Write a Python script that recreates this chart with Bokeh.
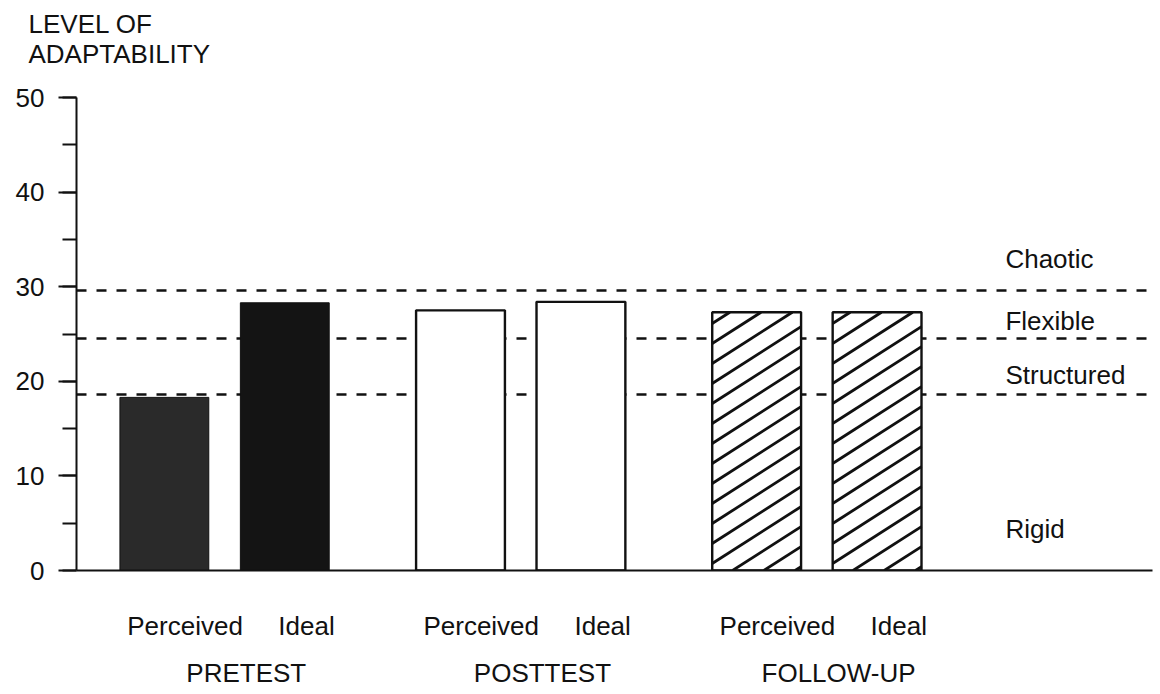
from bokeh.plotting import figure
from bokeh.models import (Range1d, SingleIntervalTicker, FixedTicker, LinearAxis,
                          ColumnDataSource, LabelSet, Title, CustomJSTickFormatter)
from bokeh.core.properties import value
from bokeh.embed import file_html
from bokeh.resources import INLINE

# ---- data ----
groups = ["PRETEST", "POSTTEST", "FOLLOW-UP"]
conditions = ["Perceived", "Ideal"]
perceived = [18.3, 27.5, 27.3]
ideal = [28.3, 28.4, 27.3]
cutoffs = [29.6, 24.5, 18.6]          # Chaotic / Flexible / Structured boundaries
zones = ["Chaotic", "Flexible", "Structured", "Rigid"]
zone_label_y = [32.0, 25.4, 19.7, 3.4]
title_lines = ["LEVEL OF", "ADAPTABILITY"]

# ---- layout / style ----
FONT = "Liberation Sans"
FS = "26px"
INK = "#111111"
group_x = [1.5 + 3 * i for i in range(len(groups))]
OFF = 0.61
BW = 0.9
XMAX, YMAX = 10.9, 50
FRAME_L, FRAME_R, FRAME_T, FRAME_B = 76, 1152, 97, 570

W, H = 1158, 692
p = figure(width=W, height=H,
           x_range=Range1d(0, XMAX), y_range=Range1d(0, YMAX),
           output_backend="svg", toolbar_location=None,
           min_border_left=FRAME_L, min_border_right=W - FRAME_R,
           min_border_top=FRAME_T, min_border_bottom=H - FRAME_B)
p.outline_line_color = None
p.grid.visible = False
p.background_fill_color = "white"
p.border_fill_color = "white"

# dashed cut-off lines (behind bars)
p.hspan(y=cutoffs, line_color=INK, line_width=2.5, line_dash="10 10")

# bars
styles = [
    dict(fill_color=["#2a2a2a", "#141414"], line_color=INK, line_width=1),
    dict(fill_color="white", line_color=INK, line_width=2.4),
    dict(fill_color="white", line_color=INK, line_width=2.4),
]
for i, g in enumerate(group_x):
    p.vbar(x=[g - OFF, g + OFF], top=[perceived[i], ideal[i]], bottom=0,
           width=BW, **styles[i])

# shallow diagonal hatching of the FOLLOW-UP bars, derived from their values
PX = (FRAME_R - FRAME_L) / XMAX      # pixels per x unit
PY = (FRAME_B - FRAME_T) / YMAX      # pixels per y unit
SLOPE, PERIOD, PHASE = 0.64, 20.0, 7.0
hx0, hy0, hx1, hy1 = [], [], [], []
gi = 2
for xc, t in zip([group_x[gi] - OFF, group_x[gi] + OFF], [perceived[gi], ideal[gi]]):
    X0, X1, T = (xc - BW / 2) * PX, (xc + BW / 2) * PX, t * PY
    k = -int((X1 - X0) * SLOPE / PERIOD) - 2
    while True:
        b = k * PERIOD + PHASE
        if b > T:
            break
        xs = max(X0, X0 - b / SLOPE)
        xe = min(X1, X0 + (T - b) / SLOPE)
        if xe > xs:
            hx0.append(xs / PX); hy0.append((b + SLOPE * (xs - X0)) / PY)
            hx1.append(xe / PX); hy1.append((b + SLOPE * (xe - X0)) / PY)
        k += 1
p.segment(x0=hx0, y0=hy0, x1=hx1, y1=hy1, line_color=INK, line_width=2.8)

# y axis
p.yaxis.ticker = SingleIntervalTicker(interval=10, num_minor_ticks=2)
p.yaxis.axis_line_width = 2
p.yaxis.axis_line_color = INK
p.yaxis.major_tick_line_width = 2
p.yaxis.minor_tick_line_width = 2
p.yaxis.major_tick_line_color = INK
p.yaxis.minor_tick_line_color = INK
p.yaxis.major_tick_in = 0
p.yaxis.minor_tick_in = 0
p.yaxis.major_tick_out = 18
p.yaxis.minor_tick_out = 14
p.yaxis.major_label_standoff = 14
p.yaxis.major_label_text_font = FONT
p.yaxis.major_label_text_font_size = FS
p.yaxis.major_label_text_color = INK

# x axis: plain baseline
p.xaxis.ticker = FixedTicker(ticks=[])
p.xaxis.axis_line_width = 2
p.xaxis.axis_line_color = INK
p.xaxis.major_tick_line_color = None
p.xaxis.minor_tick_line_color = None


def label_axis(ticks, labels, standoff):
    ax = LinearAxis(ticker=FixedTicker(ticks=ticks),
                    formatter=CustomJSTickFormatter(args=dict(labels=labels),
                                                    code="return labels[index]"))
    ax.axis_line_color = None
    ax.major_tick_line_color = None
    ax.minor_tick_line_color = None
    ax.major_tick_in = 0
    ax.major_tick_out = 0
    ax.major_label_standoff = standoff
    ax.major_label_text_font = FONT
    ax.major_label_text_font_size = FS
    ax.major_label_text_color = INK
    p.add_layout(ax, "below")


# condition labels under the bars, then group labels
label_axis([g + o for g in group_x for o in (-0.40, 0.83)],
           conditions * len(groups), 40)
label_axis([g + 0.22 for g in group_x], groups, 14)

# zone labels on the right
zone_src = ColumnDataSource(dict(x=[9.41] * len(zones), y=zone_label_y, text=zones))
p.add_layout(LabelSet(x="x", y="y", text="text", source=zone_src,
                      text_font=value(FONT), text_font_size=value(FS),
                      text_color=INK, text_align="left",
                      text_baseline="alphabetic"))

# spacer above the frame, then the two-line y title at the top left
p.add_layout(Title(text=" ", text_font_size="1px", standoff=26), "above")
p.add_layout(Title(text="\n".join(title_lines), align="left", offset=-48,
                   standoff=0, text_line_height=1.0,
                   text_font=FONT, text_font_size=FS,
                   text_font_style="normal", text_color=INK), "above")

open("out.html", "w").write(file_html(p, INLINE))
